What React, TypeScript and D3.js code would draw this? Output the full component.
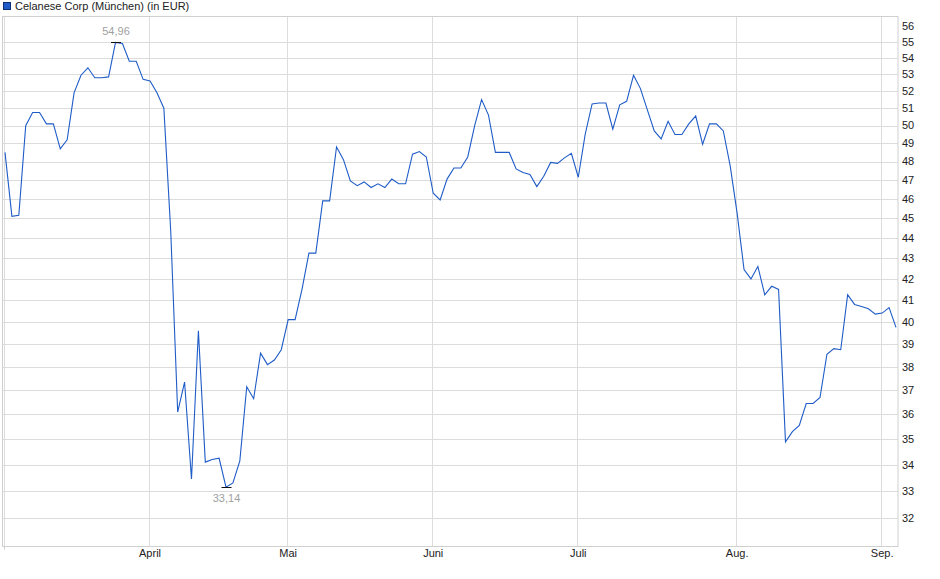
import React, { useEffect, useRef } from 'react';
import * as d3 from 'd3';

// daily closing prices (EUR), trading days from early March to early September
const prices: number[] = [
  48.5, 45.1, 45.15, 50.0, 50.75, 50.75, 50.1, 50.1, 48.7, 49.2,
  51.9, 52.95, 53.4, 52.8, 52.8, 52.85, 54.96, 54.9, 53.8, 53.8,
  52.7, 52.6, 51.9, 51.0, 44.3, 36.1, 37.35, 33.45, 39.6, 34.1,
  34.2, 34.25, 33.14, 33.3, 34.15, 37.15, 36.65, 38.6, 38.1, 38.3,
  38.75, 40.1, 40.1, 41.5, 43.25, 43.25, 45.9, 45.9, 48.8, 48.1,
  46.95, 46.7, 46.9, 46.6, 46.8, 46.6, 47.05, 46.8, 46.8, 48.4,
  48.55, 48.25, 46.3, 45.95, 47.05, 47.65, 47.65, 48.25, 50.0, 51.5,
  50.6, 48.5, 48.5, 48.5, 47.6, 47.4, 47.3, 46.65, 47.2, 47.95,
  47.9, 48.2, 48.45, 47.15, 49.5, 51.25, 51.3, 51.3, 49.8, 51.2,
  51.4, 52.95, 52.15, 50.9, 49.7, 49.25, 50.25, 49.5, 49.5, 50.1,
  50.55, 48.95, 50.1, 50.1, 49.7, 47.75, 45.25, 42.45, 42.0, 42.6,
  41.25, 41.65, 41.5, 34.9, 35.3, 35.55, 36.45, 36.45, 36.7, 38.55,
  38.8, 38.75, 41.25, 40.8, 40.7, 40.6, 40.35, 40.4, 40.65, 39.75,
];

// first trading day of each month, as index into prices
const monthLabels = ['', 'April', 'Mai', 'Juni', 'Juli', 'Aug.', 'Sep.'];
const monthStarts = [0, 21, 41, 62, 83, 106, 127];

const yTicks = d3.range(32, 57);

const App: React.FC = () => {
  const svgRef = useRef<SVGSVGElement>(null);

  useEffect(() => {
    if (!svgRef.current) return;
    const svg = d3.select(svgRef.current);
    svg.selectAll('*').remove();

    const frame = { left: 3, right: 898, top: 16.5, bottom: 546.5 };
    const font = '"Liberation Sans", Arial, sans-serif';

    const x = d3.scaleLinear()
      .domain([0, prices.length - 1])
      .range([5, 896]);

    // log scale, price axis on the right
    const y = d3.scaleLog()
      .domain([32, 56])
      .range([518, 26]);

    // horizontal grid
    svg.append('g')
      .selectAll('line')
      .data(yTicks.filter(t => t < 56))
      .join('line')
      .attr('x1', frame.left)
      .attr('x2', frame.right)
      .attr('y1', d => Math.round(y(d)) + 0.5)
      .attr('y2', d => Math.round(y(d)) + 0.5)
      .attr('stroke', '#dcdcdc');

    // vertical month grid
    svg.append('g')
      .selectAll('line')
      .data(monthStarts)
      .join('line')
      .attr('x1', d => Math.round(x(d)) - 0.5)
      .attr('x2', d => Math.round(x(d)) - 0.5)
      .attr('y1', frame.top)
      .attr('y2', frame.bottom)
      .attr('stroke', '#dcdcdc');

    // frame
    svg.append('rect')
      .attr('x', frame.left - 0.5)
      .attr('y', frame.top)
      .attr('width', frame.right - frame.left + 0.5)
      .attr('height', frame.bottom - frame.top)
      .attr('fill', 'none')
      .attr('stroke', '#d0d0d0');

    // small tick under first month line
    svg.append('line')
      .attr('x1', Math.round(x(0)) - 0.5)
      .attr('x2', Math.round(x(0)) - 0.5)
      .attr('y1', frame.bottom)
      .attr('y2', frame.bottom + 3)
      .attr('stroke', '#d0d0d0');

    // y labels
    svg.append('g')
      .selectAll('text')
      .data(yTicks)
      .join('text')
      .attr('x', 902)
      .attr('y', d => y(d))
      .attr('dy', '0.35em')
      .attr('font-family', font)
      .attr('font-size', 11)
      .attr('fill', '#222')
      .text(d => d);

    // x labels
    svg.append('g')
      .selectAll('text')
      .data(monthStarts)
      .join('text')
      .attr('x', d => x(d))
      .attr('y', 557)
      .attr('text-anchor', 'middle')
      .attr('font-family', font)
      .attr('font-size', 11)
      .attr('fill', '#222')
      .text((d, i) => monthLabels[i]);

    // price line
    const line = d3.line<number>()
      .x((d, i) => x(i))
      .y(d => y(d));

    svg.append('path')
      .datum(prices)
      .attr('d', line)
      .attr('fill', 'none')
      .attr('stroke', '#1f5cc7')
      .attr('stroke-width', 1.1);

    // max / min markers
    const fmt = (v: number) => v.toFixed(2).replace('.', ',');
    const iMax = d3.maxIndex(prices);
    const iMin = d3.minIndex(prices);
    const marks = [
      { i: iMax, v: prices[iMax], dy: -8 },
      { i: iMin, v: prices[iMin], dy: 14 },
    ];
    marks.forEach(m => {
      const cx = x(m.i) + 0.5;
      const cy = Math.round(y(m.v)) + 0.5;
      svg.append('line')
        .attr('x1', cx - 5)
        .attr('x2', cx + 5)
        .attr('y1', cy)
        .attr('y2', cy)
        .attr('stroke', '#111');
      svg.append('text')
        .attr('x', cx)
        .attr('y', cy + m.dy)
        .attr('text-anchor', 'middle')
        .attr('font-family', font)
        .attr('font-size', 11)
        .attr('fill', '#a0a0a0')
        .text(fmt(m.v));
    });

    // legend
    svg.append('rect')
      .attr('x', 3.5)
      .attr('y', 2.5)
      .attr('width', 7)
      .attr('height', 7)
      .attr('fill', '#1f5cc7')
      .attr('stroke', '#0d2f73');

    svg.append('text')
      .attr('x', 15)
      .attr('y', 10)
      .attr('font-family', font)
      .attr('font-size', 11)
      .attr('fill', '#222')
      .text('Celanese Corp (München) (in EUR)');
  }, []);

  return (
    <div style={{ position: 'absolute', left: 0, top: 0 }}>
      <svg ref={svgRef} width={940} height={579} style={{ display: 'block', background: '#fff' }} />
    </div>
  );
};

export default App;
